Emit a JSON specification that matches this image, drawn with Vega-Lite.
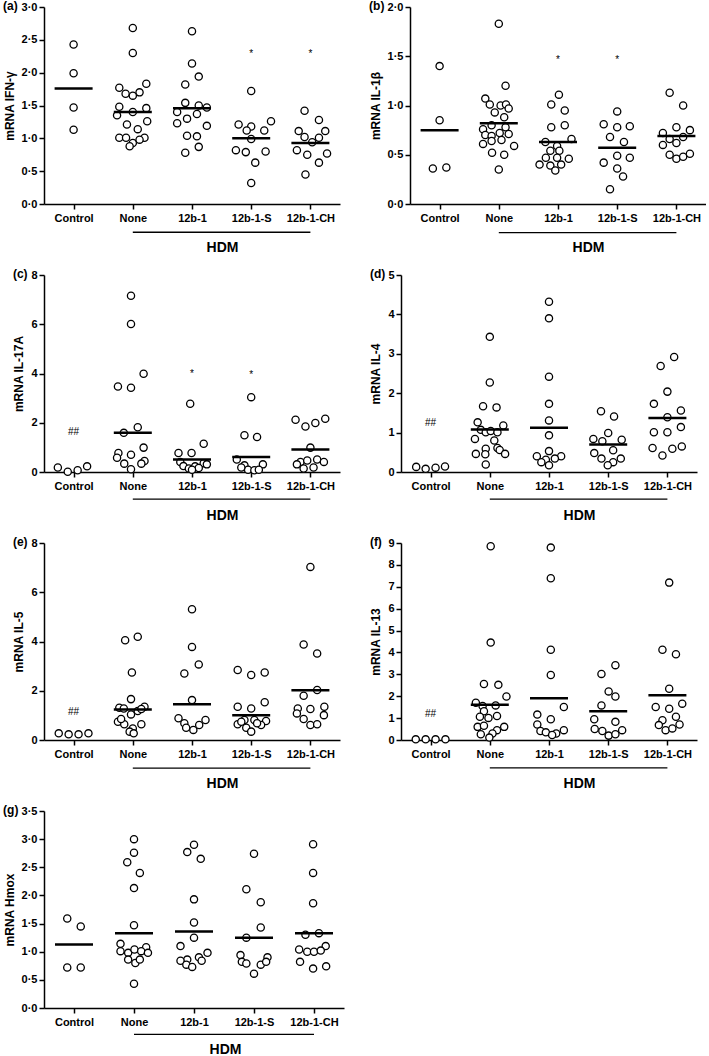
{
"$schema":"https://vega.github.io/schema/vega-lite/v6.json",
"padding":{"left":3,"top":0,"right":0,"bottom":0},
"background":"white",
"config":{
 "view":{"stroke":null},
 "font":"Arial",
 "axis":{"grid":false,"labelOverlap":false,"domainColor":"black","domainWidth":1.5,"tickColor":"black","tickWidth":1.5,"tickSize":5,"labelFont":"Arial","labelFontWeight":"bold","labelFontSize":11,"labelColor":"black","titleFont":"Arial","titleFontWeight":"bold","titleFontSize":12,"titleColor":"black"},
 "axisX":{"labelAngle":0,"labelPadding":3,"titleFontSize":14,"titlePadding":17,"titleX":178},
 "axisY":{"labelPadding":2,"titlePadding":5},
 "title":{"anchor":"start","frame":"bounds","font":"Arial","fontSize":12,"fontWeight":"bold","color":"black","baseline":"middle","offset":-6,"dy":6},
 "tick":{"opacity":1},
 "text":{"font":"Arial"}
},
"datasets":{
"bracket":[{"g":"None","g2":"12b-1-CH"}],
"pts":[
{"p":"a","g":"Control","v":2.43,"j":0},{"p":"a","g":"Control","v":1.99,"j":0},{"p":"a","g":"Control","v":1.47,"j":0},{"p":"a","g":"Control","v":1.13,"j":0},
{"p":"a","g":"None","v":2.68,"j":0},{"p":"a","g":"None","v":2.30,"j":0},{"p":"a","g":"None","v":1.83,"j":3},{"p":"a","g":"None","v":1.77,"j":-3},{"p":"a","g":"None","v":1.68,"j":-1.6},{"p":"a","g":"None","v":1.70,"j":1.5},{"p":"a","g":"None","v":1.65,"j":0},{"p":"a","g":"None","v":1.48,"j":-3},{"p":"a","g":"None","v":1.46,"j":3},{"p":"a","g":"None","v":1.35,"j":-3.5},{"p":"a","g":"None","v":1.40,"j":0},{"p":"a","g":"None","v":1.26,"j":3.2},{"p":"a","g":"None","v":1.21,"j":-1.3},{"p":"a","g":"None","v":1.14,"j":1.1},{"p":"a","g":"None","v":1.01,"j":-3},{"p":"a","g":"None","v":1.01,"j":-1.5},{"p":"a","g":"None","v":0.93,"j":0},{"p":"a","g":"None","v":1.01,"j":2.6},{"p":"a","g":"None","v":0.88,"j":-0.7},{"p":"a","g":"None","v":0.98,"j":1.5},
{"p":"a","g":"12b-1","v":2.63,"j":0},{"p":"a","g":"12b-1","v":2.14,"j":0},{"p":"a","g":"12b-1","v":1.94,"j":1.5},{"p":"a","g":"12b-1","v":1.82,"j":-1.5},{"p":"a","g":"12b-1","v":1.54,"j":-1.5},{"p":"a","g":"12b-1","v":1.50,"j":1.5},{"p":"a","g":"12b-1","v":1.47,"j":3.3},{"p":"a","g":"12b-1","v":1.40,"j":-3.3},{"p":"a","g":"12b-1","v":1.37,"j":1.1},{"p":"a","g":"12b-1","v":1.30,"j":-1.1},{"p":"a","g":"12b-1","v":1.23,"j":-3.3},{"p":"a","g":"12b-1","v":1.19,"j":3.3},{"p":"a","g":"12b-1","v":1.04,"j":-1.1},{"p":"a","g":"12b-1","v":1.03,"j":1.1},{"p":"a","g":"12b-1","v":0.87,"j":1.5},{"p":"a","g":"12b-1","v":0.78,"j":-1.5},
{"p":"a","g":"12b-1-S","v":1.72,"j":0},{"p":"a","g":"12b-1-S","v":1.21,"j":-2.8},{"p":"a","g":"12b-1-S","v":1.18,"j":0},{"p":"a","g":"12b-1-S","v":1.26,"j":4.4},{"p":"a","g":"12b-1-S","v":1.12,"j":-1},{"p":"a","g":"12b-1-S","v":1.12,"j":2.9},{"p":"a","g":"12b-1-S","v":0.99,"j":0},{"p":"a","g":"12b-1-S","v":0.82,"j":-3.4},{"p":"a","g":"12b-1-S","v":0.79,"j":-1.2},{"p":"a","g":"12b-1-S","v":0.80,"j":3.2},{"p":"a","g":"12b-1-S","v":0.63,"j":0.9},{"p":"a","g":"12b-1-S","v":0.32,"j":0},
{"p":"a","g":"12b-1-CH","v":1.42,"j":-1.3},{"p":"a","g":"12b-1-CH","v":1.28,"j":1.9},{"p":"a","g":"12b-1-CH","v":1.11,"j":-2.6},{"p":"a","g":"12b-1-CH","v":1.11,"j":3.3},{"p":"a","g":"12b-1-CH","v":1.02,"j":-1.3},{"p":"a","g":"12b-1-CH","v":1.01,"j":1.9},{"p":"a","g":"12b-1-CH","v":0.94,"j":0.4},{"p":"a","g":"12b-1-CH","v":0.82,"j":-3},{"p":"a","g":"12b-1-CH","v":0.77,"j":3.7},{"p":"a","g":"12b-1-CH","v":0.75,"j":-0.7},{"p":"a","g":"12b-1-CH","v":0.63,"j":1.9},{"p":"a","g":"12b-1-CH","v":0.45,"j":-1.1},

{"p":"b","g":"Control","v":1.40,"j":0},{"p":"b","g":"Control","v":0.85,"j":0},{"p":"b","g":"Control","v":0.36,"j":-1.5},{"p":"b","g":"Control","v":0.37,"j":1.5},
{"p":"b","g":"None","v":1.83,"j":0},{"p":"b","g":"None","v":1.20,"j":1.5},{"p":"b","g":"None","v":1.07,"j":-3},{"p":"b","g":"None","v":1.01,"j":-2},{"p":"b","g":"None","v":1.00,"j":0.4},{"p":"b","g":"None","v":1.01,"j":1.6},{"p":"b","g":"None","v":0.93,"j":-0.9},{"p":"b","g":"None","v":0.97,"j":2.2},{"p":"b","g":"None","v":0.88,"j":1.2},{"p":"b","g":"None","v":0.76,"j":-3.5},{"p":"b","g":"None","v":0.80,"j":-1.6},{"p":"b","g":"None","v":0.78,"j":1.5},{"p":"b","g":"None","v":0.70,"j":-3},{"p":"b","g":"None","v":0.72,"j":0.2},{"p":"b","g":"None","v":0.69,"j":-1.6},{"p":"b","g":"None","v":0.71,"j":2.2},{"p":"b","g":"None","v":0.61,"j":-3.5},{"p":"b","g":"None","v":0.64,"j":-1.6},{"p":"b","g":"None","v":0.65,"j":0.6},{"p":"b","g":"None","v":0.59,"j":3.4},{"p":"b","g":"None","v":0.52,"j":-1.5},{"p":"b","g":"None","v":0.50,"j":1.2},{"p":"b","g":"None","v":0.35,"j":0},
{"p":"b","g":"12b-1","v":1.11,"j":0.2},{"p":"b","g":"12b-1","v":1.01,"j":-1.5},{"p":"b","g":"12b-1","v":0.95,"j":1.5},{"p":"b","g":"12b-1","v":0.78,"j":-1.5},{"p":"b","g":"12b-1","v":0.80,"j":1.5},{"p":"b","g":"12b-1","v":0.63,"j":-2.8},{"p":"b","g":"12b-1","v":0.66,"j":3},{"p":"b","g":"12b-1","v":0.59,"j":-0.2},{"p":"b","g":"12b-1","v":0.54,"j":-1.7},{"p":"b","g":"12b-1","v":0.54,"j":0.3},{"p":"b","g":"12b-1","v":0.47,"j":-2.7},{"p":"b","g":"12b-1","v":0.46,"j":2.4},{"p":"b","g":"12b-1","v":0.47,"j":-0.2},{"p":"b","g":"12b-1","v":0.40,"j":-4.1},{"p":"b","g":"12b-1","v":0.39,"j":-1.7},{"p":"b","g":"12b-1","v":0.40,"j":0.7},{"p":"b","g":"12b-1","v":0.34,"j":-0.6},
{"p":"b","g":"12b-1-S","v":0.94,"j":0},{"p":"b","g":"12b-1-S","v":0.81,"j":-3},{"p":"b","g":"12b-1-S","v":0.78,"j":0},{"p":"b","g":"12b-1-S","v":0.79,"j":2.8},{"p":"b","g":"12b-1-S","v":0.68,"j":-1.6},{"p":"b","g":"12b-1-S","v":0.63,"j":1.5},{"p":"b","g":"12b-1-S","v":0.49,"j":0},{"p":"b","g":"12b-1-S","v":0.42,"j":-3},{"p":"b","g":"12b-1-S","v":0.47,"j":2.8},{"p":"b","g":"12b-1-S","v":0.36,"j":0},{"p":"b","g":"12b-1-S","v":0.28,"j":1.3},{"p":"b","g":"12b-1-S","v":0.15,"j":-1.6},
{"p":"b","g":"12b-1-CH","v":1.13,"j":-1.5},{"p":"b","g":"12b-1-CH","v":1.00,"j":1.5},{"p":"b","g":"12b-1-CH","v":0.78,"j":0},{"p":"b","g":"12b-1-CH","v":0.72,"j":-3},{"p":"b","g":"12b-1-CH","v":0.75,"j":3},{"p":"b","g":"12b-1-CH","v":0.66,"j":-1.5},{"p":"b","g":"12b-1-CH","v":0.68,"j":1.5},{"p":"b","g":"12b-1-CH","v":0.60,"j":-3},{"p":"b","g":"12b-1-CH","v":0.62,"j":0},{"p":"b","g":"12b-1-CH","v":0.50,"j":-1.5},{"p":"b","g":"12b-1-CH","v":0.51,"j":3},{"p":"b","g":"12b-1-CH","v":0.46,"j":0},{"p":"b","g":"12b-1-CH","v":0.48,"j":1.5},

{"p":"c","g":"Control","v":0.18,"j":-3.5},{"p":"c","g":"Control","v":0.01,"j":-1.3},{"p":"c","g":"Control","v":0.07,"j":0.9},{"p":"c","g":"Control","v":0.23,"j":3},
{"p":"c","g":"None","v":7.16,"j":-0.4},{"p":"c","g":"None","v":6.01,"j":-0.4},{"p":"c","g":"None","v":3.99,"j":2.4},{"p":"c","g":"None","v":3.47,"j":-3.3},{"p":"c","g":"None","v":3.42,"j":-0.4},{"p":"c","g":"None","v":1.82,"j":1.1},{"p":"c","g":"None","v":1.59,"j":-2},{"p":"c","g":"None","v":0.99,"j":2.4},{"p":"c","g":"None","v":0.77,"j":-3.2},{"p":"c","g":"None","v":0.70,"j":-0.4},{"p":"c","g":"None","v":0.58,"j":-3.5},{"p":"c","g":"None","v":0.45,"j":2.6},{"p":"c","g":"None","v":0.34,"j":-1.9},{"p":"c","g":"None","v":0.34,"j":1.9},{"p":"c","g":"None","v":0.11,"j":-0.4},
{"p":"c","g":"12b-1","v":2.77,"j":-0.4},{"p":"c","g":"12b-1","v":1.15,"j":2.6},{"p":"c","g":"12b-1","v":0.77,"j":-3},{"p":"c","g":"12b-1","v":0.77,"j":-0.1},{"p":"c","g":"12b-1","v":0.41,"j":-2.6},{"p":"c","g":"12b-1","v":0.36,"j":2.6},{"p":"c","g":"12b-1","v":0.24,"j":-1.9},{"p":"c","g":"12b-1","v":0.23,"j":0.7},{"p":"c","g":"12b-1","v":0.16,"j":1.5},{"p":"c","g":"12b-1","v":0.14,"j":-0.7},{"p":"c","g":"12b-1","v":0.31,"j":3.3},{"p":"c","g":"12b-1","v":0.09,"j":0},
{"p":"c","g":"12b-1-S","v":3.04,"j":0},{"p":"c","g":"12b-1-S","v":1.49,"j":-1.5},{"p":"c","g":"12b-1-S","v":1.42,"j":1.3},{"p":"c","g":"12b-1-S","v":0.51,"j":-3.2},{"p":"c","g":"12b-1-S","v":0.27,"j":-1.5},{"p":"c","g":"12b-1-S","v":0.31,"j":2.6},{"p":"c","g":"12b-1-S","v":0.09,"j":-0.7},{"p":"c","g":"12b-1-S","v":0.07,"j":0.7},{"p":"c","g":"12b-1-S","v":0.18,"j":-2.2},{"p":"c","g":"12b-1-S","v":0.09,"j":1.7},
{"p":"c","g":"12b-1-CH","v":2.12,"j":-3.3},{"p":"c","g":"12b-1-CH","v":2.16,"j":3.3},{"p":"c","g":"12b-1-CH","v":1.99,"j":1.1},{"p":"c","g":"12b-1-CH","v":1.85,"j":-1.1},{"p":"c","g":"12b-1-CH","v":0.99,"j":0},{"p":"c","g":"12b-1-CH","v":0.51,"j":1.5},{"p":"c","g":"12b-1-CH","v":0.41,"j":-2.2},{"p":"c","g":"12b-1-CH","v":0.41,"j":3},{"p":"c","g":"12b-1-CH","v":0.47,"j":-0.7},{"p":"c","g":"12b-1-CH","v":0.31,"j":-3},{"p":"c","g":"12b-1-CH","v":0.14,"j":-1.5},{"p":"c","g":"12b-1-CH","v":0.18,"j":0.7},

{"p":"d","g":"Control","v":0.13,"j":-3.2},{"p":"d","g":"Control","v":0.08,"j":-1.1},{"p":"d","g":"Control","v":0.11,"j":1.1},{"p":"d","g":"Control","v":0.14,"j":3.2},
{"p":"d","g":"None","v":3.43,"j":0},{"p":"d","g":"None","v":2.27,"j":0},{"p":"d","g":"None","v":1.67,"j":-1.5},{"p":"d","g":"None","v":1.64,"j":1.5},{"p":"d","g":"None","v":1.26,"j":-2.7},{"p":"d","g":"None","v":1.18,"j":3},{"p":"d","g":"None","v":1.07,"j":-2},{"p":"d","g":"None","v":1.01,"j":-0.9},{"p":"d","g":"None","v":1.04,"j":0.2},{"p":"d","g":"None","v":1.01,"j":1.7},{"p":"d","g":"None","v":0.84,"j":-3.3},{"p":"d","g":"None","v":0.80,"j":1},{"p":"d","g":"None","v":0.59,"j":-0.9},{"p":"d","g":"None","v":0.61,"j":1.7},{"p":"d","g":"None","v":0.56,"j":2.2},{"p":"d","g":"None","v":0.46,"j":-3.1},{"p":"d","g":"None","v":0.45,"j":-1},{"p":"d","g":"None","v":0.46,"j":3.4},{"p":"d","g":"None","v":0.19,"j":-0.9},
{"p":"d","g":"12b-1","v":4.32,"j":0},{"p":"d","g":"12b-1","v":3.90,"j":0},{"p":"d","g":"12b-1","v":2.42,"j":0},{"p":"d","g":"12b-1","v":1.73,"j":0},{"p":"d","g":"12b-1","v":1.31,"j":0},{"p":"d","g":"12b-1","v":0.93,"j":0},{"p":"d","g":"12b-1","v":0.53,"j":0},{"p":"d","g":"12b-1","v":0.40,"j":-2.7},{"p":"d","g":"12b-1","v":0.40,"j":2.7},{"p":"d","g":"12b-1","v":0.31,"j":-0.7},{"p":"d","g":"12b-1","v":0.34,"j":1.3},{"p":"d","g":"12b-1","v":0.17,"j":0},{"p":"d","g":"12b-1","v":0.25,"j":-1.7},
{"p":"d","g":"12b-1-S","v":1.54,"j":-1.6},{"p":"d","g":"12b-1-S","v":1.41,"j":1.3},{"p":"d","g":"12b-1-S","v":0.99,"j":0},{"p":"d","g":"12b-1-S","v":0.84,"j":-3.3},{"p":"d","g":"12b-1-S","v":0.82,"j":3},{"p":"d","g":"12b-1-S","v":0.78,"j":-1.3},{"p":"d","g":"12b-1-S","v":0.48,"j":-3.1},{"p":"d","g":"12b-1-S","v":0.55,"j":1.1},{"p":"d","g":"12b-1-S","v":0.34,"j":-1.5},{"p":"d","g":"12b-1-S","v":0.34,"j":2.8},{"p":"d","g":"12b-1-S","v":0.25,"j":1.1},{"p":"d","g":"12b-1-S","v":0.17,"j":-0.1},
{"p":"d","g":"12b-1-CH","v":2.92,"j":1.5},{"p":"d","g":"12b-1-CH","v":2.69,"j":-1.5},{"p":"d","g":"12b-1-CH","v":2.04,"j":0},{"p":"d","g":"12b-1-CH","v":1.73,"j":-3},{"p":"d","g":"12b-1-CH","v":1.56,"j":3},{"p":"d","g":"12b-1-CH","v":1.39,"j":0},{"p":"d","g":"12b-1-CH","v":1.14,"j":3},{"p":"d","g":"12b-1-CH","v":1.01,"j":-3},{"p":"d","g":"12b-1-CH","v":1.01,"j":0},{"p":"d","g":"12b-1-CH","v":0.61,"j":-3.3},{"p":"d","g":"12b-1-CH","v":0.59,"j":1.1},{"p":"d","g":"12b-1-CH","v":0.65,"j":3.2},{"p":"d","g":"12b-1-CH","v":0.42,"j":-1.1},

{"p":"e","g":"Control","v":0.27,"j":-3.3},{"p":"e","g":"Control","v":0.23,"j":-1.1},{"p":"e","g":"Control","v":0.23,"j":1.1},{"p":"e","g":"Control","v":0.27,"j":3.3},
{"p":"e","g":"None","v":4.05,"j":-1.7},{"p":"e","g":"None","v":4.19,"j":1.1},{"p":"e","g":"None","v":2.74,"j":-0.2},{"p":"e","g":"None","v":1.66,"j":-0.4},{"p":"e","g":"None","v":1.31,"j":-3},{"p":"e","g":"None","v":1.28,"j":-2},{"p":"e","g":"None","v":1.35,"j":2.6},{"p":"e","g":"None","v":1.04,"j":-0.4},{"p":"e","g":"None","v":1.18,"j":1.1},{"p":"e","g":"None","v":1.26,"j":1.9},{"p":"e","g":"None","v":0.74,"j":-3.3},{"p":"e","g":"None","v":0.64,"j":-1.9},{"p":"e","g":"None","v":0.64,"j":1.9},{"p":"e","g":"None","v":0.47,"j":0},{"p":"e","g":"None","v":0.34,"j":-0.7},{"p":"e","g":"None","v":0.27,"j":0.2},{"p":"e","g":"None","v":0.85,"j":-2.6},
{"p":"e","g":"12b-1","v":5.31,"j":0},{"p":"e","g":"12b-1","v":3.78,"j":0},{"p":"e","g":"12b-1","v":3.07,"j":1.5},{"p":"e","g":"12b-1","v":2.70,"j":-1.7},{"p":"e","g":"12b-1","v":1.62,"j":0},{"p":"e","g":"12b-1","v":0.88,"j":-3},{"p":"e","g":"12b-1","v":0.81,"j":3},{"p":"e","g":"12b-1","v":0.68,"j":-1.7},{"p":"e","g":"12b-1","v":0.61,"j":1.6},{"p":"e","g":"12b-1","v":0.50,"j":-1.3},{"p":"e","g":"12b-1","v":0.41,"j":0.3},
{"p":"e","g":"12b-1-S","v":2.84,"j":-3},{"p":"e","g":"12b-1-S","v":2.64,"j":0},{"p":"e","g":"12b-1-S","v":2.74,"j":3},{"p":"e","g":"12b-1-S","v":1.35,"j":-3},{"p":"e","g":"12b-1-S","v":1.28,"j":0},{"p":"e","g":"12b-1-S","v":1.53,"j":3},{"p":"e","g":"12b-1-S","v":0.81,"j":-1.5},{"p":"e","g":"12b-1-S","v":0.81,"j":0.7},{"p":"e","g":"12b-1-S","v":0.77,"j":3.3},{"p":"e","g":"12b-1-S","v":0.64,"j":-3},{"p":"e","g":"12b-1-S","v":0.50,"j":-1.1},{"p":"e","g":"12b-1-S","v":0.61,"j":2.2},{"p":"e","g":"12b-1-S","v":0.34,"j":0},{"p":"e","g":"12b-1-S","v":0.68,"j":1.3},{"p":"e","g":"12b-1-S","v":0.74,"j":-2.2},
{"p":"e","g":"12b-1-CH","v":7.03,"j":0},{"p":"e","g":"12b-1-CH","v":3.88,"j":-1.5},{"p":"e","g":"12b-1-CH","v":3.51,"j":1.5},{"p":"e","g":"12b-1-CH","v":2.03,"j":1.5},{"p":"e","g":"12b-1-CH","v":1.80,"j":-1.5},{"p":"e","g":"12b-1-CH","v":1.28,"j":-2.8},{"p":"e","g":"12b-1-CH","v":1.26,"j":0},{"p":"e","g":"12b-1-CH","v":1.35,"j":3.1},{"p":"e","g":"12b-1-CH","v":1.08,"j":-3},{"p":"e","g":"12b-1-CH","v":1.01,"j":3},{"p":"e","g":"12b-1-CH","v":0.85,"j":-1.5},{"p":"e","g":"12b-1-CH","v":0.61,"j":0},{"p":"e","g":"12b-1-CH","v":0.64,"j":1.5},

{"p":"f","g":"Control","v":0.03,"j":-3.3},{"p":"f","g":"Control","v":0.03,"j":-1.1},{"p":"f","g":"Control","v":0.03,"j":1.1},{"p":"f","g":"Control","v":0.03,"j":3.3},
{"p":"f","g":"None","v":8.85,"j":0.2},{"p":"f","g":"None","v":4.45,"j":0.2},{"p":"f","g":"None","v":2.56,"j":-1.3},{"p":"f","g":"None","v":2.52,"j":1.9},{"p":"f","g":"None","v":1.99,"j":3.7},{"p":"f","g":"None","v":1.70,"j":-3.1},{"p":"f","g":"None","v":1.55,"j":-1.6},{"p":"f","g":"None","v":1.58,"j":1.3},{"p":"f","g":"None","v":1.31,"j":-1.3},{"p":"f","g":"None","v":1.10,"j":1.6},{"p":"f","g":"None","v":1.06,"j":-2.2},{"p":"f","g":"None","v":1.01,"j":-0.3},{"p":"f","g":"None","v":0.60,"j":-2.7},{"p":"f","g":"None","v":0.65,"j":-1.3},{"p":"f","g":"None","v":0.60,"j":3.2},{"p":"f","g":"None","v":0.45,"j":1.6},{"p":"f","g":"None","v":0.26,"j":-2},{"p":"f","g":"None","v":0.30,"j":0.6},{"p":"f","g":"None","v":0.11,"j":-0.1},
{"p":"f","g":"12b-1","v":8.79,"j":0.4},{"p":"f","g":"12b-1","v":7.39,"j":0.4},{"p":"f","g":"12b-1","v":4.12,"j":0.4},{"p":"f","g":"12b-1","v":2.97,"j":0.4},{"p":"f","g":"12b-1","v":1.51,"j":3.3},{"p":"f","g":"12b-1","v":1.16,"j":-2.6},{"p":"f","g":"12b-1","v":0.95,"j":0.4},{"p":"f","g":"12b-1","v":0.71,"j":-2.6},{"p":"f","g":"12b-1","v":0.41,"j":-1.9},{"p":"f","g":"12b-1","v":0.35,"j":-0.7},{"p":"f","g":"12b-1","v":0.30,"j":1.6},{"p":"f","g":"12b-1","v":0.45,"j":3.3},{"p":"f","g":"12b-1","v":0.23,"j":0.7},
{"p":"f","g":"12b-1-S","v":3.42,"j":1.6},{"p":"f","g":"12b-1-S","v":3.02,"j":-1.5},{"p":"f","g":"12b-1-S","v":2.22,"j":0.1},{"p":"f","g":"12b-1-S","v":1.99,"j":1.6},{"p":"f","g":"12b-1-S","v":1.58,"j":-1.5},{"p":"f","g":"12b-1-S","v":0.95,"j":-3.1},{"p":"f","g":"12b-1-S","v":0.83,"j":1.6},{"p":"f","g":"12b-1-S","v":0.50,"j":-3},{"p":"f","g":"12b-1-S","v":0.41,"j":-1.3},{"p":"f","g":"12b-1-S","v":0.45,"j":3.1},{"p":"f","g":"12b-1-S","v":0.20,"j":0.1},{"p":"f","g":"12b-1-S","v":0.26,"j":1.6},
{"p":"f","g":"12b-1-CH","v":7.19,"j":0.4},{"p":"f","g":"12b-1-CH","v":4.12,"j":-1.1},{"p":"f","g":"12b-1-CH","v":3.92,"j":1.9},{"p":"f","g":"12b-1-CH","v":2.34,"j":0.4},{"p":"f","g":"12b-1-CH","v":1.51,"j":-2.6},{"p":"f","g":"12b-1-CH","v":1.43,"j":0.4},{"p":"f","g":"12b-1-CH","v":1.66,"j":3.3},{"p":"f","g":"12b-1-CH","v":0.90,"j":-1.1},{"p":"f","g":"12b-1-CH","v":1.06,"j":1.9},{"p":"f","g":"12b-1-CH","v":0.68,"j":-1.9},{"p":"f","g":"12b-1-CH","v":0.71,"j":2.7},{"p":"f","g":"12b-1-CH","v":0.45,"j":-0.4},{"p":"f","g":"12b-1-CH","v":0.53,"j":1.1},

{"p":"g","g":"Control","v":1.59,"j":-1.5},{"p":"g","g":"Control","v":1.45,"j":1.5},{"p":"g","g":"Control","v":0.72,"j":-1.5},{"p":"g","g":"Control","v":0.72,"j":1.5},
{"p":"g","g":"None","v":3.00,"j":0},{"p":"g","g":"None","v":2.76,"j":0},{"p":"g","g":"None","v":2.59,"j":-1.5},{"p":"g","g":"None","v":2.40,"j":1.3},{"p":"g","g":"None","v":2.13,"j":0},{"p":"g","g":"None","v":1.47,"j":0},{"p":"g","g":"None","v":1.14,"j":-3},{"p":"g","g":"None","v":1.08,"j":2.7},{"p":"g","g":"None","v":1.01,"j":-3},{"p":"g","g":"None","v":0.98,"j":-1.3},{"p":"g","g":"None","v":1.04,"j":0.1},{"p":"g","g":"None","v":1.01,"j":1.6},{"p":"g","g":"None","v":0.98,"j":3.1},{"p":"g","g":"None","v":0.86,"j":-1.3},{"p":"g","g":"None","v":0.80,"j":0.3},{"p":"g","g":"None","v":0.86,"j":1.3},{"p":"g","g":"None","v":0.43,"j":0},
{"p":"g","g":"12b-1","v":2.90,"j":0},{"p":"g","g":"12b-1","v":2.77,"j":-1.5},{"p":"g","g":"12b-1","v":2.65,"j":1.5},{"p":"g","g":"12b-1","v":1.93,"j":0},{"p":"g","g":"12b-1","v":1.52,"j":0},{"p":"g","g":"12b-1","v":1.25,"j":0},{"p":"g","g":"12b-1","v":1.10,"j":-3},{"p":"g","g":"12b-1","v":0.98,"j":3},{"p":"g","g":"12b-1","v":0.86,"j":-1.5},{"p":"g","g":"12b-1","v":0.90,"j":1.1},{"p":"g","g":"12b-1","v":0.84,"j":-3},{"p":"g","g":"12b-1","v":0.84,"j":1.7},{"p":"g","g":"12b-1","v":0.77,"j":-1.7},{"p":"g","g":"12b-1","v":0.73,"j":-0.4},
{"p":"g","g":"12b-1-S","v":2.74,"j":0},{"p":"g","g":"12b-1-S","v":2.11,"j":-1.7},{"p":"g","g":"12b-1-S","v":1.88,"j":1.5},{"p":"g","g":"12b-1-S","v":1.43,"j":1.5},{"p":"g","g":"12b-1-S","v":1.25,"j":-1.7},{"p":"g","g":"12b-1-S","v":0.94,"j":-3},{"p":"g","g":"12b-1-S","v":0.90,"j":3},{"p":"g","g":"12b-1-S","v":0.82,"j":-2.7},{"p":"g","g":"12b-1-S","v":0.79,"j":-1.7},{"p":"g","g":"12b-1-S","v":0.77,"j":1.5},{"p":"g","g":"12b-1-S","v":0.82,"j":2.7},{"p":"g","g":"12b-1-S","v":0.61,"j":0},
{"p":"g","g":"12b-1-CH","v":2.91,"j":-0.2},{"p":"g","g":"12b-1-CH","v":2.40,"j":-0.2},{"p":"g","g":"12b-1-CH","v":1.86,"j":-0.2},{"p":"g","g":"12b-1-CH","v":1.30,"j":-1.9},{"p":"g","g":"12b-1-CH","v":1.33,"j":1.1},{"p":"g","g":"12b-1-CH","v":1.10,"j":2.6},{"p":"g","g":"12b-1-CH","v":1.04,"j":-3.3},{"p":"g","g":"12b-1-CH","v":1.00,"j":-1.5},{"p":"g","g":"12b-1-CH","v":1.00,"j":0},{"p":"g","g":"12b-1-CH","v":1.02,"j":1.5},{"p":"g","g":"12b-1-CH","v":0.82,"j":-3.1},{"p":"g","g":"12b-1-CH","v":0.70,"j":-0.2},{"p":"g","g":"12b-1-CH","v":0.74,"j":2.7}
],
"means":[
{"p":"a","g":"Control","v":1.76},{"p":"a","g":"None","v":1.40},{"p":"a","g":"12b-1","v":1.46},{"p":"a","g":"12b-1-S","v":1.00},{"p":"a","g":"12b-1-CH","v":0.93},
{"p":"b","g":"Control","v":0.75},{"p":"b","g":"None","v":0.82},{"p":"b","g":"12b-1","v":0.63},{"p":"b","g":"12b-1-S","v":0.57},{"p":"b","g":"12b-1-CH","v":0.69},
{"p":"c","g":"None","v":1.59},{"p":"c","g":"12b-1","v":0.51},{"p":"c","g":"12b-1-S","v":0.61},{"p":"c","g":"12b-1-CH","v":0.91},
{"p":"d","g":"None","v":1.08},{"p":"d","g":"12b-1","v":1.12},{"p":"d","g":"12b-1-S","v":0.70},{"p":"d","g":"12b-1-CH","v":1.37},
{"p":"e","g":"None","v":1.24},{"p":"e","g":"12b-1","v":1.45},{"p":"e","g":"12b-1-S","v":1.01},{"p":"e","g":"12b-1-CH","v":2.02},
{"p":"f","g":"None","v":1.61},{"p":"f","g":"12b-1","v":1.91},{"p":"f","g":"12b-1-S","v":1.31},{"p":"f","g":"12b-1-CH","v":2.04},
{"p":"g","g":"Control","v":1.13},{"p":"g","g":"None","v":1.33},{"p":"g","g":"12b-1","v":1.36},{"p":"g","g":"12b-1-S","v":1.25},{"p":"g","g":"12b-1-CH","v":1.33}
],
"notes":[
{"p":"a","g":"12b-1-S","v":2.29,"t":"*"},{"p":"a","g":"12b-1-CH","v":2.29,"t":"*"},
{"p":"b","g":"12b-1","v":1.46,"t":"*"},{"p":"b","g":"12b-1-S","v":1.46,"t":"*"},
{"p":"c","g":"Control","v":1.62,"t":"##"},{"p":"c","g":"12b-1","v":4.0,"t":"*"},{"p":"c","g":"12b-1-S","v":3.92,"t":"*"},
{"p":"d","g":"Control","v":1.24,"t":"##"},
{"p":"e","g":"Control","v":1.13,"t":"##"},
{"p":"f","g":"Control","v":1.21,"t":"##"}
]
},
"vconcat":[
{"hconcat":[
{"width":296,"height":197,"title":{"text":"(a)"},
 "encoding":{"x":{"field":"g","type":"nominal","scale":{"type":"point","padding":0.5,"domain":["Control","None","12b-1","12b-1-S","12b-1-CH"]},"axis":{"title":"HDM"}}},
 "layer":[
 {"data":{"name":"pts"},"transform":[{"filter":"datum.p=='a'"}],"mark":{"type":"point","shape":"circle","filled":true,"fill":"white","stroke":"black","strokeWidth":1.3,"size":52,"opacity":1},
  "encoding":{"xOffset":{"field":"j","type":"quantitative","scale":{"domain":[-6,6],"range":[-27,27]}},
   "y":{"field":"v","type":"quantitative","scale":{"domain":[0,3],"nice":false},"axis":{"title":"mRNA IFN-γ","values":[0,0.5,1,1.5,2,2.5,3],"labelExpr":"replace(format(datum.value,'.1f'),'.','·')"}}}},
 {"data":{"name":"means"},"transform":[{"filter":"datum.p=='a'"}],"mark":{"type":"tick","color":"black","opacity":1,"thickness":2.5,"size":38},
  "encoding":{"y":{"field":"v","type":"quantitative","scale":{"domain":[0,3],"nice":false},"axis":{"title":"mRNA IFN-γ","values":[0,0.5,1,1.5,2,2.5,3],"labelExpr":"replace(format(datum.value,'.1f'),'.','·')"}}}},
 {"data":{"name":"notes"},"transform":[{"filter":"datum.p=='a'"}],"mark":{"type":"text","fontSize":10,"fill":"black"},
  "encoding":{"text":{"field":"t"},"y":{"field":"v","type":"quantitative","scale":{"domain":[0,3],"nice":false},"axis":{"title":"mRNA IFN-γ","values":[0,0.5,1,1.5,2,2.5,3],"labelExpr":"replace(format(datum.value,'.1f'),'.','·')"}}}},
 {"data":{"name":"bracket"},"mark":{"type":"rule","color":"black","strokeWidth":1.3},
  "encoding":{"x2":{"field":"g2"},"y":{"datum":-0.43,"type":"quantitative","scale":{"domain":[0,3],"nice":false},"axis":{"title":"mRNA IFN-γ","values":[0,0.5,1,1.5,2,2.5,3],"labelExpr":"replace(format(datum.value,'.1f'),'.','·')"}}}}
]},
{"width":296,"height":197,"title":{"text":"(b)"},
 "encoding":{"x":{"field":"g","type":"nominal","scale":{"type":"point","padding":0.5,"domain":["Control","None","12b-1","12b-1-S","12b-1-CH"]},"axis":{"title":"HDM"}}},
 "layer":[
 {"data":{"name":"pts"},"transform":[{"filter":"datum.p=='b'"}],"mark":{"type":"point","shape":"circle","filled":true,"fill":"white","stroke":"black","strokeWidth":1.3,"size":52,"opacity":1},
  "encoding":{"xOffset":{"field":"j","type":"quantitative","scale":{"domain":[-6,6],"range":[-27,27]}},
   "y":{"field":"v","type":"quantitative","scale":{"domain":[0,2],"nice":false},"axis":{"title":"mRNA IL-1β","values":[0,0.5,1,1.5,2],"labelExpr":"replace(format(datum.value,'.1f'),'.','·')"}}}},
 {"data":{"name":"means"},"transform":[{"filter":"datum.p=='b'"}],"mark":{"type":"tick","color":"black","opacity":1,"thickness":2.5,"size":38},
  "encoding":{"y":{"field":"v","type":"quantitative","scale":{"domain":[0,2],"nice":false},"axis":{"title":"mRNA IL-1β","values":[0,0.5,1,1.5,2],"labelExpr":"replace(format(datum.value,'.1f'),'.','·')"}}}},
 {"data":{"name":"notes"},"transform":[{"filter":"datum.p=='b'"}],"mark":{"type":"text","fontSize":10,"fill":"black"},
  "encoding":{"text":{"field":"t"},"y":{"field":"v","type":"quantitative","scale":{"domain":[0,2],"nice":false},"axis":{"title":"mRNA IL-1β","values":[0,0.5,1,1.5,2],"labelExpr":"replace(format(datum.value,'.1f'),'.','·')"}}}},
 {"data":{"name":"bracket"},"mark":{"type":"rule","color":"black","strokeWidth":1.3},
  "encoding":{"x2":{"field":"g2"},"y":{"datum":-0.29,"type":"quantitative","scale":{"domain":[0,2],"nice":false},"axis":{"title":"mRNA IL-1β","values":[0,0.5,1,1.5,2],"labelExpr":"replace(format(datum.value,'.1f'),'.','·')"}}}}
]}
],"spacing":29},
{"hconcat":[
{"width":296,"height":197,"title":{"text":"(c)"},
 "encoding":{"x":{"field":"g","type":"nominal","scale":{"type":"point","padding":0.5,"domain":["Control","None","12b-1","12b-1-S","12b-1-CH"]},"axis":{"title":"HDM"}}},
 "layer":[
 {"data":{"name":"pts"},"transform":[{"filter":"datum.p=='c'"}],"mark":{"type":"point","shape":"circle","filled":true,"fill":"white","stroke":"black","strokeWidth":1.3,"size":52,"opacity":1},
  "encoding":{"xOffset":{"field":"j","type":"quantitative","scale":{"domain":[-6,6],"range":[-27,27]}},
   "y":{"field":"v","type":"quantitative","scale":{"domain":[0,8],"nice":false},"axis":{"title":"mRNA IL-17A","values":[0,2,4,6,8],"format":"d"}}}},
 {"data":{"name":"means"},"transform":[{"filter":"datum.p=='c'"}],"mark":{"type":"tick","color":"black","opacity":1,"thickness":2.5,"size":38},
  "encoding":{"y":{"field":"v","type":"quantitative","scale":{"domain":[0,8],"nice":false},"axis":{"title":"mRNA IL-17A","values":[0,2,4,6,8],"format":"d"}}}},
 {"data":{"name":"notes"},"transform":[{"filter":"datum.p=='c'"}],"mark":{"type":"text","fontSize":10,"fill":"black"},
  "encoding":{"text":{"field":"t"},"y":{"field":"v","type":"quantitative","scale":{"domain":[0,8],"nice":false},"axis":{"title":"mRNA IL-17A","values":[0,2,4,6,8],"format":"d"}}}},
 {"data":{"name":"bracket"},"mark":{"type":"rule","color":"black","strokeWidth":1.3},
  "encoding":{"x2":{"field":"g2"},"y":{"datum":-1.1,"type":"quantitative","scale":{"domain":[0,8],"nice":false},"axis":{"title":"mRNA IL-17A","values":[0,2,4,6,8],"format":"d"}}}}
]},
{"width":296,"height":197,"title":{"text":"(d)"},
 "encoding":{"x":{"field":"g","type":"nominal","scale":{"type":"point","padding":0.5,"domain":["Control","None","12b-1","12b-1-S","12b-1-CH"]},"axis":{"title":"HDM"}}},
 "layer":[
 {"data":{"name":"pts"},"transform":[{"filter":"datum.p=='d'"}],"mark":{"type":"point","shape":"circle","filled":true,"fill":"white","stroke":"black","strokeWidth":1.3,"size":52,"opacity":1},
  "encoding":{"xOffset":{"field":"j","type":"quantitative","scale":{"domain":[-6,6],"range":[-27,27]}},
   "y":{"field":"v","type":"quantitative","scale":{"domain":[0,5],"nice":false},"axis":{"title":"mRNA IL-4","values":[0,1,2,3,4,5],"format":"d"}}}},
 {"data":{"name":"means"},"transform":[{"filter":"datum.p=='d'"}],"mark":{"type":"tick","color":"black","opacity":1,"thickness":2.5,"size":38},
  "encoding":{"y":{"field":"v","type":"quantitative","scale":{"domain":[0,5],"nice":false},"axis":{"title":"mRNA IL-4","values":[0,1,2,3,4,5],"format":"d"}}}},
 {"data":{"name":"notes"},"transform":[{"filter":"datum.p=='d'"}],"mark":{"type":"text","fontSize":10,"fill":"black"},
  "encoding":{"text":{"field":"t"},"y":{"field":"v","type":"quantitative","scale":{"domain":[0,5],"nice":false},"axis":{"title":"mRNA IL-4","values":[0,1,2,3,4,5],"format":"d"}}}},
 {"data":{"name":"bracket"},"mark":{"type":"rule","color":"black","strokeWidth":1.3},
  "encoding":{"x2":{"field":"g2"},"y":{"datum":-0.69,"type":"quantitative","scale":{"domain":[0,5],"nice":false},"axis":{"title":"mRNA IL-4","values":[0,1,2,3,4,5],"format":"d"}}}}
]}
],"spacing":29},
{"hconcat":[
{"width":296,"height":197,"title":{"text":"(e)"},
 "encoding":{"x":{"field":"g","type":"nominal","scale":{"type":"point","padding":0.5,"domain":["Control","None","12b-1","12b-1-S","12b-1-CH"]},"axis":{"title":"HDM"}}},
 "layer":[
 {"data":{"name":"pts"},"transform":[{"filter":"datum.p=='e'"}],"mark":{"type":"point","shape":"circle","filled":true,"fill":"white","stroke":"black","strokeWidth":1.3,"size":52,"opacity":1},
  "encoding":{"xOffset":{"field":"j","type":"quantitative","scale":{"domain":[-6,6],"range":[-27,27]}},
   "y":{"field":"v","type":"quantitative","scale":{"domain":[0,8],"nice":false},"axis":{"title":"mRNA IL-5","values":[0,2,4,6,8],"format":"d"}}}},
 {"data":{"name":"means"},"transform":[{"filter":"datum.p=='e'"}],"mark":{"type":"tick","color":"black","opacity":1,"thickness":2.5,"size":38},
  "encoding":{"y":{"field":"v","type":"quantitative","scale":{"domain":[0,8],"nice":false},"axis":{"title":"mRNA IL-5","values":[0,2,4,6,8],"format":"d"}}}},
 {"data":{"name":"notes"},"transform":[{"filter":"datum.p=='e'"}],"mark":{"type":"text","fontSize":10,"fill":"black"},
  "encoding":{"text":{"field":"t"},"y":{"field":"v","type":"quantitative","scale":{"domain":[0,8],"nice":false},"axis":{"title":"mRNA IL-5","values":[0,2,4,6,8],"format":"d"}}}},
 {"data":{"name":"bracket"},"mark":{"type":"rule","color":"black","strokeWidth":1.3},
  "encoding":{"x2":{"field":"g2"},"y":{"datum":-1.14,"type":"quantitative","scale":{"domain":[0,8],"nice":false},"axis":{"title":"mRNA IL-5","values":[0,2,4,6,8],"format":"d"}}}}
]},
{"width":296,"height":197,"title":{"text":"(f)"},
 "encoding":{"x":{"field":"g","type":"nominal","scale":{"type":"point","padding":0.5,"domain":["Control","None","12b-1","12b-1-S","12b-1-CH"]},"axis":{"title":"HDM"}}},
 "layer":[
 {"data":{"name":"pts"},"transform":[{"filter":"datum.p=='f'"}],"mark":{"type":"point","shape":"circle","filled":true,"fill":"white","stroke":"black","strokeWidth":1.3,"size":52,"opacity":1},
  "encoding":{"xOffset":{"field":"j","type":"quantitative","scale":{"domain":[-6,6],"range":[-27,27]}},
   "y":{"field":"v","type":"quantitative","scale":{"domain":[0,9],"nice":false},"axis":{"title":"mRNA IL-13","values":[0,1,2,3,4,5,6,7,8,9],"format":"d"}}}},
 {"data":{"name":"means"},"transform":[{"filter":"datum.p=='f'"}],"mark":{"type":"tick","color":"black","opacity":1,"thickness":2.5,"size":38},
  "encoding":{"y":{"field":"v","type":"quantitative","scale":{"domain":[0,9],"nice":false},"axis":{"title":"mRNA IL-13","values":[0,1,2,3,4,5,6,7,8,9],"format":"d"}}}},
 {"data":{"name":"notes"},"transform":[{"filter":"datum.p=='f'"}],"mark":{"type":"text","fontSize":10,"fill":"black"},
  "encoding":{"text":{"field":"t"},"y":{"field":"v","type":"quantitative","scale":{"domain":[0,9],"nice":false},"axis":{"title":"mRNA IL-13","values":[0,1,2,3,4,5,6,7,8,9],"format":"d"}}}},
 {"data":{"name":"bracket"},"mark":{"type":"rule","color":"black","strokeWidth":1.3},
  "encoding":{"x2":{"field":"g2"},"y":{"datum":-1.27,"type":"quantitative","scale":{"domain":[0,9],"nice":false},"axis":{"title":"mRNA IL-13","values":[0,1,2,3,4,5,6,7,8,9],"format":"d"}}}}
]}
],"spacing":29},
{"hconcat":[
{"width":300,"height":197,"title":{"text":"(g)"},
 "encoding":{"x":{"field":"g","type":"nominal","scale":{"type":"point","padding":0.5,"domain":["Control","None","12b-1","12b-1-S","12b-1-CH"]},"axis":{"title":"HDM","titlePadding":15,"titleX":181}}},
 "layer":[
 {"data":{"name":"pts"},"transform":[{"filter":"datum.p=='g'"}],"mark":{"type":"point","shape":"circle","filled":true,"fill":"white","stroke":"black","strokeWidth":1.3,"size":52,"opacity":1},
  "encoding":{"xOffset":{"field":"j","type":"quantitative","scale":{"domain":[-6,6],"range":[-27,27]}},
   "y":{"field":"v","type":"quantitative","scale":{"domain":[0,3.5],"nice":false},"axis":{"title":"mRNA Hmox","values":[0,0.5,1,1.5,2,2.5,3,3.5],"labelExpr":"replace(format(datum.value,'.1f'),'.','·')"}}}},
 {"data":{"name":"means"},"transform":[{"filter":"datum.p=='g'"}],"mark":{"type":"tick","color":"black","opacity":1,"thickness":2.5,"size":38},
  "encoding":{"y":{"field":"v","type":"quantitative","scale":{"domain":[0,3.5],"nice":false},"axis":{"title":"mRNA Hmox","values":[0,0.5,1,1.5,2,2.5,3,3.5],"labelExpr":"replace(format(datum.value,'.1f'),'.','·')"}}}},
 {"data":{"name":"bracket"},"mark":{"type":"rule","color":"black","strokeWidth":1.3},
  "encoding":{"x2":{"field":"g2"},"y":{"datum":-0.47,"type":"quantitative","scale":{"domain":[0,3.5],"nice":false},"axis":{"title":"mRNA Hmox","values":[0,0.5,1,1.5,2,2.5,3,3.5],"labelExpr":"replace(format(datum.value,'.1f'),'.','·')"}}}}
]}
]}
],
"spacing":14
}
